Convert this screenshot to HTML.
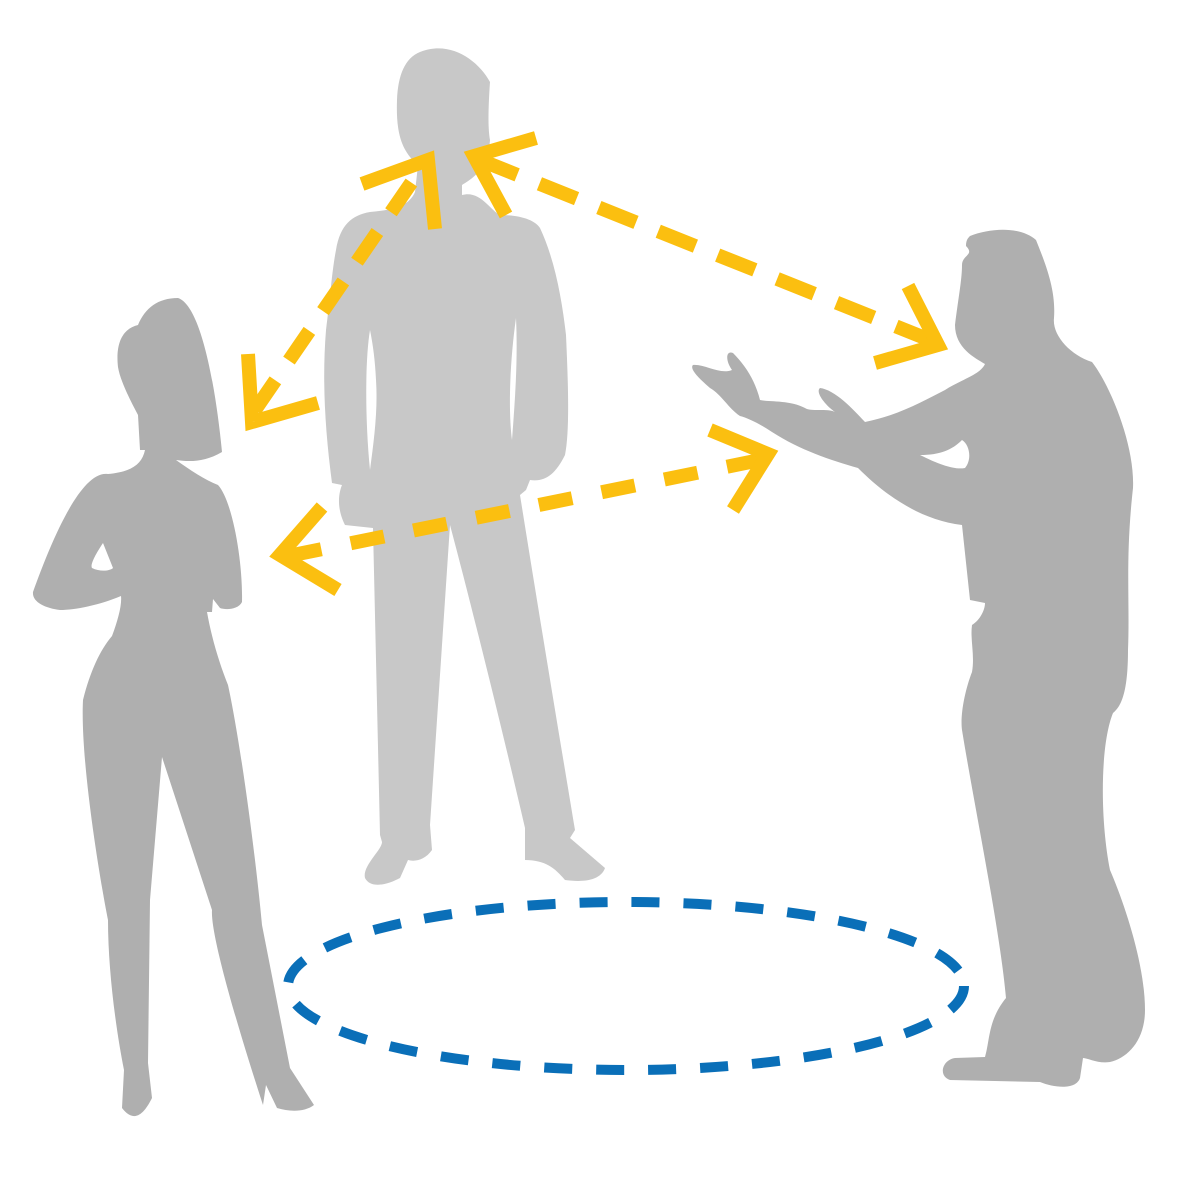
<!DOCTYPE html>
<html><head><meta charset="utf-8"><style>html,body{margin:0;padding:0;background:#fff}svg{display:block}</style></head>
<body>
<svg width="1182" height="1182" viewBox="0 0 1182 1182" xmlns="http://www.w3.org/2000/svg">
<!-- middle man -->
<g fill="#c8c8c8">
<path d="M420,52 C450,40 478,60 490,82 C488,110 488,130 490,140 L488,160 C478,175 470,180 462,185 L462,195 C480,190 490,210 500,215 C520,215 535,220 540,228 C555,260 562,300 566,335 C568,380 570,430 565,455 C555,475 545,482 530,480 L526,490 L520,495 C540,620 560,740 575,830 L570,838 L605,868 C600,882 580,882 565,880 C555,868 545,860 525,860 L525,828 C500,720 470,600 450,525 L430,825 L432,850 C425,860 415,862 408,860 L400,878 C385,886 370,888 365,878 C362,866 382,850 382,842 L380,835 L373,528 L345,525 C335,505 340,490 342,485 L332,483 C325,430 322,380 326,330 C330,300 332,270 336,250 C340,225 352,215 370,212 C390,210 408,208 415,192 L418,165 C400,150 396,130 397,100 C398,75 405,58 420,52 Z M370,330 C365,360 365,420 370,470 C374,440 378,410 376,380 C375,360 373,345 370,330 Z M516,318 C510,360 508,410 512,440 C515,400 518,360 516,318 Z" fill-rule="evenodd"/>
</g>
<!-- left woman -->
<g fill="#afafaf">
<path d="M178,298 C200,305 215,380 222,452 C205,462 190,462 176,460 C190,470 205,480 218,485 C232,500 243,560 242,602 C238,610 225,610 220,608 L213,599 L212,612 L207,612 C212,640 220,665 228,685 C240,740 255,850 262,925 L290,1068 L314,1105 C305,1112 290,1112 277,1108 L266,1085 L263,1105 C250,1065 210,940 212,910 L162,757 L150,900 L148,1063 L152,1098 C145,1112 135,1125 122,1108 L124,1070 C116,1030 108,970 108,920 C100,880 80,760 83,700 C90,672 100,650 112,636 C118,620 122,605 121,596 C100,605 75,610 60,610 C45,608 32,602 33,592 C50,545 80,470 108,474 C130,472 142,465 145,450 L140,450 L138,415 C130,400 120,380 118,367 C115,340 125,328 138,325 C145,308 158,298 178,298 Z M103,543 C95,555 90,565 92,568 C100,572 110,571 113,568 Z" fill-rule="evenodd"/>
</g>
<!-- right man -->
<g fill="#afafaf">
<path d="M970,236 C990,228 1020,226 1036,240 C1046,265 1056,290 1054,318 C1052,335 1070,355 1092,362 C1110,385 1135,445 1133,488 C1125,560 1130,600 1128,650 C1128,690 1122,706 1113,713 C1100,745 1100,820 1110,870 C1125,905 1145,965 1145,1010 C1145,1040 1128,1058 1110,1062 C1098,1064 1088,1058 1083,1058 L1080,1078 C1076,1090 1055,1088 1040,1082 L950,1080 C938,1076 942,1060 955,1058 L985,1057 C990,1040 988,1020 1006,998 C1000,930 975,810 962,730 C960,715 965,690 972,672 C975,655 970,640 972,625 C980,620 985,610 985,603 L970,600 L962,525 C920,520 885,495 858,468 C830,460 800,450 772,432 C760,424 748,418 740,416 C728,408 722,395 710,388 C695,375 690,368 693,365 C705,364 720,375 732,370 C725,360 726,350 733,353 C745,365 755,380 760,400 C770,402 790,400 805,408 C810,412 828,408 835,412 C825,405 815,392 820,388 C835,390 852,408 865,422 C900,415 925,400 945,390 C960,380 980,375 985,364 C975,358 955,348 955,325 C958,300 962,280 962,265 C962,255 975,255 966,246 C966,240 968,238 970,236 Z M920,455 C940,465 955,470 965,468 C972,460 970,445 962,440 C952,450 940,455 920,455 Z" fill-rule="evenodd"/>
</g>
<!-- yellow arrows -->
<g fill="none" stroke="#fbbf10" stroke-width="14">
<line x1="255" y1="410" x2="420" y2="170" stroke-dasharray="36 24"/>
<polyline points="248,354 252,422 318,403"/>
<polyline points="362,184 428,160 435,229"/>
<line x1="480" y1="160" x2="930" y2="340" stroke-dasharray="40 24"/>
<polyline points="536,138 474,156 506,215"/>
<polyline points="908,286 938,345 875,363"/>
<line x1="288" y1="556" x2="760" y2="460" stroke-dasharray="34 30" stroke-dashoffset="-64"/>
<polyline points="322,507 280,555 338,590"/>
<polyline points="710,430 768,454 733,510"/>
</g>
<!-- blue dashed ellipse -->
<ellipse cx="626" cy="986" rx="338" ry="84" fill="none" stroke="#0a6fb8" stroke-width="10" stroke-dasharray="28 24"/>
</svg>
</body></html>
